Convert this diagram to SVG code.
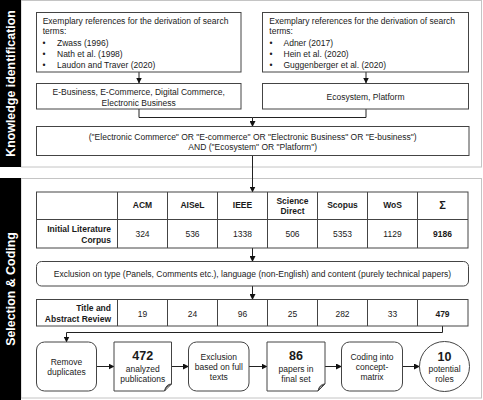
<svg xmlns="http://www.w3.org/2000/svg" width="483" height="400" viewBox="0 0 483 400">
<defs>
<marker id="ah" markerWidth="6" markerHeight="6" refX="5.5" refY="3" orient="auto" markerUnits="userSpaceOnUse">
<path d="M0,0 L6,3 L0,6 Z" fill="#111"/>
</marker>
<style>
text{font-family:"Liberation Sans",Arial,sans-serif;font-size:8.5px;fill:#1a1a1a}
.c{text-anchor:middle}
.r{text-anchor:end}
.b{font-weight:bold}
.big{font-size:12.5px;font-weight:bold}
.band{font-size:12.4px;font-weight:bold;fill:#fff;text-anchor:middle}
.box{fill:#fff;stroke:#444;stroke-width:1}
.frame{fill:#fff;stroke:#c4c4c4;stroke-width:1}
.ln{fill:none;stroke:#222;stroke-width:1}
.arr{fill:none;stroke:#222;stroke-width:1;marker-end:url(#ah)}
</style>
</defs>
<rect width="483" height="400" fill="#fff"/>
<g id="sections">
<rect class="frame" x="21" y="0.5" width="460.5" height="166.5"/>
<rect class="frame" x="21" y="178.5" width="460.5" height="219.5"/>
<rect x="0" y="0" width="21" height="167" fill="#000"/>
<rect x="0" y="178" width="21" height="222" fill="#000"/>
<text class="band" transform="translate(15,83.5) rotate(-90)">Knowledge identification</text>
<text class="band" transform="translate(15,289) rotate(-90)">Selection &amp; Coding</text>
</g>
<g id="connectors">
<line class="arr" x1="139" y1="72" x2="139" y2="83"/>
<line class="arr" x1="366" y1="72" x2="366" y2="83"/>
<path class="ln" d="M139,109 V117.5 H252.5"/>
<path class="arr" d="M366,109 V117.5 H252.5 V126.5"/>
<line class="arr" x1="252.5" y1="155.5" x2="252.5" y2="192"/>
<line class="arr" x1="252.5" y1="248" x2="252.5" y2="261.5"/>
<line class="arr" x1="252.5" y1="286" x2="252.5" y2="299.5"/>
<path class="arr" d="M442.5,326 V332.5 H66.5 V342"/>
<line class="arr" x1="96.5" y1="366.5" x2="114" y2="366.5"/>
<line class="arr" x1="171.5" y1="366.5" x2="188.5" y2="366.5"/>
<line class="arr" x1="249" y1="366.5" x2="267" y2="366.5"/>
<line class="arr" x1="325" y1="366.5" x2="341.5" y2="366.5"/>
<line class="arr" x1="402.5" y1="366.5" x2="419.5" y2="366.5"/>
</g>
<g id="refs-left">
<rect class="box" x="36.5" y="12.5" width="204.5" height="59.5"/>
<text x="42.7" y="23.7">Exemplary references for the derivation of search</text>
<text x="42.7" y="34">terms:</text>
<text x="42.5" y="46">•</text><text x="57" y="46">Zwass (1996)</text>
<text x="42.5" y="57">•</text><text x="57" y="57">Nath et al. (1998)</text>
<text x="42.5" y="67.5">•</text><text x="57" y="67.5">Laudon and Traver (2020)</text>
</g>
<g id="refs-right">
<rect class="box" x="262.5" y="12.5" width="206" height="59.5"/>
<text x="269.3" y="23.7">Exemplary references for the derivation of search</text>
<text x="269.3" y="34">terms:</text>
<text x="269.5" y="46">•</text><text x="283.5" y="46">Adner (2017)</text>
<text x="269.5" y="57">•</text><text x="283.5" y="57">Hein et al. (2020)</text>
<text x="269.5" y="67.5">•</text><text x="283.5" y="67.5">Guggenberger et al. (2020)</text>
</g>
<g id="terms-left">
<rect class="box" x="36.5" y="83.5" width="204.5" height="25.5"/>
<text class="c" x="138.7" y="94.5">E-Business, E-Commerce, Digital Commerce,</text>
<text class="c" x="138.7" y="105.5">Electronic Business</text>
</g>
<g id="terms-right">
<rect class="box" x="262.5" y="83.5" width="206" height="25.5"/>
<text class="c" x="365.5" y="100">Ecosystem, Platform</text>
</g>
<g id="query">
<rect class="box" x="36.5" y="126.5" width="432.5" height="29"/>
<text class="c" x="252.7" y="139.7">("Electronic Commerce" OR "E-commerce" OR "Electronic Business" OR "E-business")</text>
<text class="c" x="252.7" y="149.7">AND ("Ecosystem" OR "Platform")</text>
</g>
<g id="table-initial">
<rect class="box" x="36.5" y="192" width="431.5" height="56"/>
<path class="ln" style="stroke:#444" d="M36.5,219.5 H468 M117.5,192 V248 M167.5,192 V248 M217.5,192 V248 M267.5,192 V248 M317.5,192 V248 M367.5,192 V248 M417.5,192 V248"/>
<text class="c b" x="142.5" y="208">ACM</text>
<text class="c b" x="192.5" y="208">AISeL</text>
<text class="c b" x="242.5" y="208">IEEE</text>
<text class="c b" x="292.5" y="203.5">Science</text>
<text class="c b" x="292.5" y="214">Direct</text>
<text class="c b" x="342.5" y="208">Scopus</text>
<text class="c b" x="392.5" y="208">WoS</text>
<text class="c b" x="442.5" y="209" style="font-size:11px">Σ</text>
<text class="r b" x="111" y="232.3">Initial Literature</text>
<text class="r b" x="111" y="243">Corpus</text>
<text class="c" x="142.5" y="236.5">324</text>
<text class="c" x="192.5" y="236.5">536</text>
<text class="c" x="242.5" y="236.5">1338</text>
<text class="c" x="292.5" y="236.5">506</text>
<text class="c" x="342.5" y="236.5">5353</text>
<text class="c" x="392.5" y="236.5">1129</text>
<text class="c b" x="442.5" y="236.5">9186</text>
</g>
<g id="exclusion">
<rect class="box" x="36.5" y="261.5" width="432" height="24.5" rx="5"/>
<text class="c" x="252.5" y="277.3">Exclusion on type (Panels, Comments etc.), language (non-English) and content (purely technical papers)</text>
</g>
<g id="table-review">
<rect class="box" x="36.5" y="299.5" width="431.5" height="26.5"/>
<path class="ln" style="stroke:#444" d="M117.5,299.5 V326 M167.5,299.5 V326 M217.5,299.5 V326 M267.5,299.5 V326 M317.5,299.5 V326 M367.5,299.5 V326 M417.5,299.5 V326"/>
<text class="r b" x="111" y="311.3">Title and</text>
<text class="r b" x="111" y="322">Abstract Review</text>
<text class="c" x="142.5" y="317">19</text>
<text class="c" x="192.5" y="317">24</text>
<text class="c" x="242.5" y="317">96</text>
<text class="c" x="292.5" y="317">25</text>
<text class="c" x="342.5" y="317">282</text>
<text class="c" x="392.5" y="317">33</text>
<text class="c b" x="442.5" y="317">479</text>
</g>
<g id="remove-duplicates">
<rect class="box" x="36.5" y="342" width="60" height="49" rx="8"/>
<text class="c" x="66.5" y="364.5">Remove</text>
<text class="c" x="66.5" y="374.5">duplicates</text>
</g>
<g id="analyzed">
<path class="box" d="M114,342 H171.5 V384 L164.5,391 H114 Z"/>
<path class="box" d="M171.5,384 Q166,384 164.5,391 Q165,386.5 171.5,384 Z" style="fill:#eee"/>
<text class="c big" x="142.8" y="360">472</text>
<text class="c" x="142.8" y="372">analyzed</text>
<text class="c" x="142.8" y="381.7">publications</text>
</g>
<g id="full-text">
<rect class="box" x="188.5" y="342" width="60.5" height="49" rx="8"/>
<text class="c" x="218.8" y="359.7">Exclusion</text>
<text class="c" x="218.8" y="370.3">based on full</text>
<text class="c" x="218.8" y="380.3">texts</text>
</g>
<g id="final-set">
<path class="box" d="M267,342 H325 V384 L318,391 H267 Z"/>
<path class="box" d="M325,384 Q319.5,384 318,391 Q318.5,386.5 325,384 Z" style="fill:#eee"/>
<text class="c big" x="296" y="360">86</text>
<text class="c" x="296" y="372">papers in</text>
<text class="c" x="296" y="382">final set</text>
</g>
<g id="coding">
<rect class="box" x="341.5" y="342" width="61" height="49" rx="8"/>
<text class="c" x="372" y="359.7">Coding into</text>
<text class="c" x="372" y="370">concept-</text>
<text class="c" x="372" y="380">matrix</text>
</g>
<g id="roles">
<circle class="box" cx="444.5" cy="366.5" r="25"/>
<text class="c big" x="444.5" y="360.5">10</text>
<text class="c" x="444.5" y="372">potential</text>
<text class="c" x="444.5" y="382">roles</text>
</g>
</svg>
